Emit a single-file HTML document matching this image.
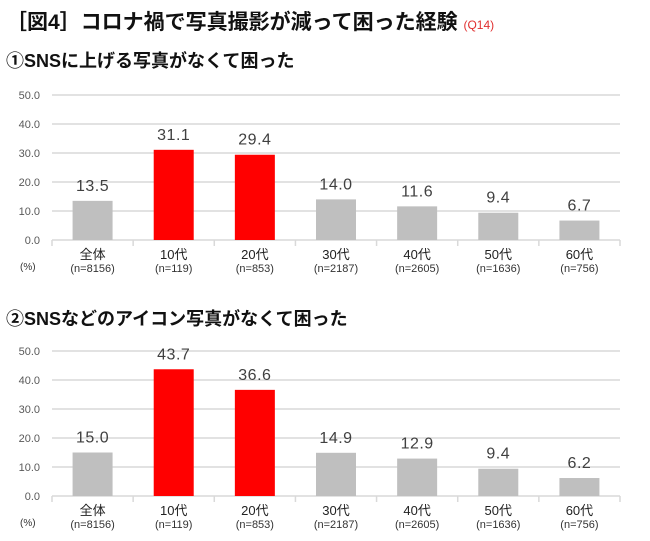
<!DOCTYPE html>
<html><head><meta charset="utf-8"><style>
body{margin:0;background:#fff;width:650px;height:541px;overflow:hidden;font-family:"Liberation Sans","Noto Sans CJK JP",sans-serif}
.t{position:absolute;font-weight:bold;color:#111}
</style></head><body>
<div class="t" style="left:6px;top:6px;font-size:21px">［図4］コロナ禍で写真撮影が減って困った経験 <span style="color:#e03030;font-size:12px;font-weight:normal">(Q14)</span></div>
<div class="t" style="left:6px;top:47px;font-size:18px">①SNSに上げる写真がなくて困った</div>
<div class="t" style="left:6px;top:305px;font-size:18px">②SNSなどのアイコン写真がなくて困った</div>
<svg id="s" width="650" height="541" style="position:absolute;left:0;top:0"></svg>
<script>
const categories=["全体","10代","20代","30代","40代","50代","60代"];
const samples=["(n=8156)","(n=119)","(n=853)","(n=2187)","(n=2605)","(n=1636)","(n=756)"];
const series1=[13.5,31.1,29.4,14.0,11.6,9.4,6.7];
const series2=[15.0,43.7,36.6,14.9,12.9,9.4,6.2];
const highlight=[false,true,true,false,false,false,false];
const ticks=[0,10,20,30,40,50];
const s=document.getElementById('s');
const NS='http://www.w3.org/2000/svg';
function mk(tag,a,txt){const e=document.createElementNS(NS,tag);for(const k in a)e.setAttribute(k,a[k]);if(txt!=null)e.textContent=txt;s.appendChild(e);return e;}
function chart(vals,y0,id){
 const x0=52,x1=620,cw=(x1-x0)/categories.length,ppu=2.9;
 const y=v=>y0-v*ppu;
 ticks.forEach(t=>{
  const l=mk('line',{x1:x0,x2:x1,y1:y(t),y2:y(t),stroke:'#d9d9d9','stroke-width':1.5});
  
  const tx=mk('text',{x:40,y:y(t)+4,'text-anchor':'end','font-size':11,fill:'#595959'},t.toFixed(1));
  
 });
 for(let i=0;i<=categories.length;i++){const l=mk('line',{x1:x0+i*cw,x2:x0+i*cw,y1:y0,y2:y0+6,stroke:'#d9d9d9','stroke-width':1.5});}
 vals.forEach((v,i)=>{
  const cx=x0+cw*(i+0.5);
  const r=mk('rect',{x:cx-20,y:y(v),width:40,height:v*ppu,fill:highlight[i]?'#ff0000':'#bfbfbf'});
  
  const lb=mk('text',{x:cx,y:y(v)-10,'text-anchor':'middle','font-size':16,fill:'#404040','letter-spacing':'0.5'},v.toFixed(1));
  
  const c=mk('text',{x:cx,y:y0+19,'text-anchor':'middle','font-size':13,fill:'#222'},categories[i]);
  
  const n=mk('text',{x:cx,y:y0+32,'text-anchor':'middle','font-size':11,fill:'#333'},samples[i]);
  
 });
 const u=mk('text',{x:20,y:y0+30,'font-size':10,fill:'#333'},'(%)');
 
}
chart(series1,240,'chart1');
chart(series2,496,'chart2');
</script>
</body></html>
